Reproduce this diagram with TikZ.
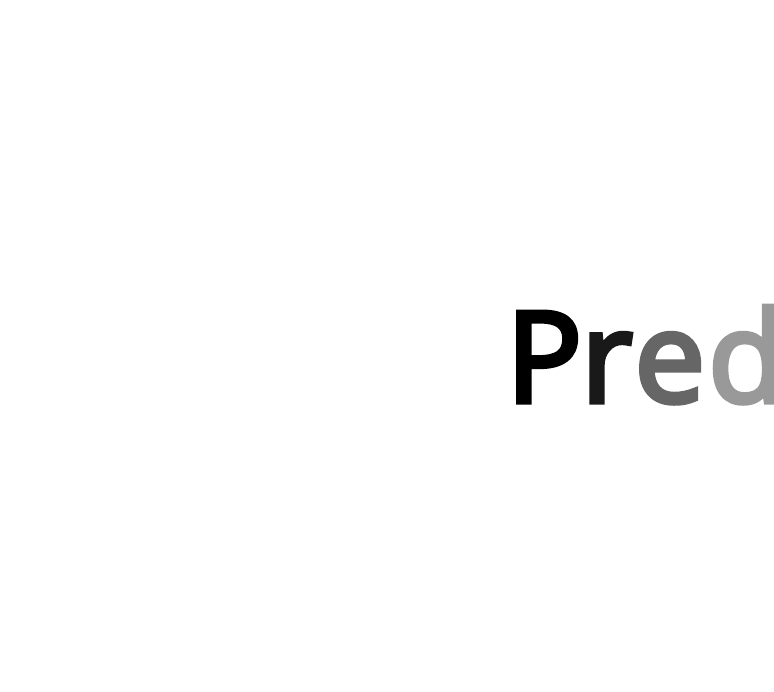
\documentclass[tikz,border=0pt]{standalone}
\usepackage{fontspec}
\setmainfont{Open Sans}
\newfontfamily\wordfont[FakeBold=4]{Open Sans}
\begin{document}
\begin{tikzpicture}[x=1pt,y=1pt,
  word/.style={font=\fontsize{126}{126}\selectfont\wordfont, inner sep=0pt, anchor=base west}]
\useasboundingbox (0,0) rectangle (774,691);
\clip (0,0) rectangle (774,691);
\node[word] (title) at (506,289) {\textcolor{black}{P}\kern-1pt\textcolor{black!90}{r}\kern2pt\textcolor{black!60}{e}\kern3pt\textcolor{black!40}{d}};
\end{tikzpicture}
\end{document}
